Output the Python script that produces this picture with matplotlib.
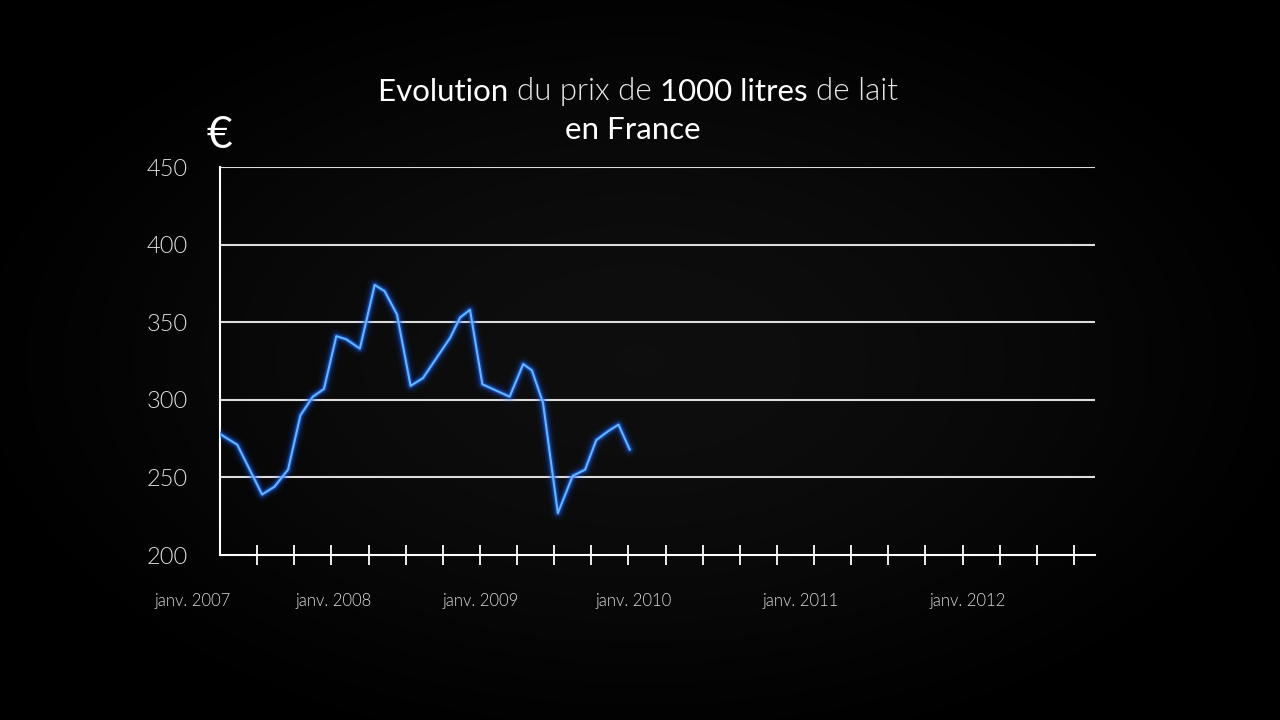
import matplotlib
matplotlib.use("Agg")
import matplotlib.pyplot as plt
import numpy as np

# Prix de 1000 litres de lait (EUR), mois depuis janv. 2007
mois = [0.0, 1.4, 3.4, 4.4, 5.5, 6.5, 7.5, 8.4, 9.4, 10.2, 11.3, 12.5, 13.3,
        14.3, 15.4, 16.4, 18.6, 19.4, 20.2, 21.2, 23.4, 24.5, 25.2, 26.1,
        27.3, 28.5, 29.5, 30.4, 31.4, 32.2, 33.1]
prix = [278, 271, 239, 244, 255, 290, 302, 307, 341, 339, 333, 374, 370,
        355, 309, 314, 340, 353, 358, 310, 302, 323, 319, 298,
        227, 251, 255, 274, 280, 284, 268]

y_ticks = [200, 250, 300, 350, 400, 450]
x_ticks = list(range(3, 70, 3))  # trimestres
annees = ["janv. 2007", "janv. 2008", "janv. 2009", "janv. 2010", "janv. 2011", "janv. 2012"]
pos_annees = [-2.2, 9.2, 21.1, 33.4, 46.9, 60.4]

police = "Lato"
fin = 300  # Lato Light

fig = plt.figure(figsize=(12.8, 7.2), dpi=100)
fig.patch.set_facecolor("black")

# fond noir avec léger halo au centre
bg = fig.add_axes([0, 0, 1, 1], zorder=-10)
yy, xx = np.mgrid[0:720, 0:1280]
r = np.sqrt(((xx - 640) / 720.0) ** 2 + ((yy - 360) / 430.0) ** 2)
lum = 0.055 * np.clip(1 - r ** 2, 0, 1) ** 1.5
bg.imshow(np.dstack([lum, lum, lum]), extent=[0, 1, 0, 1], aspect="auto")
bg.axis("off")

ax = fig.add_axes([220 / 1280, 1 - 555 / 720, (1095 - 220) / 1280, (555 - 167) / 720])
ax.set_facecolor("none")
ax.set_xlim(0, 70.7)
ax.set_ylim(200, 450)

# lignes horizontales
for v in y_ticks[1:]:
    ax.axhline(v, color="#dcdcdc", lw=1.5, zorder=1)

# courbe lumineuse : plusieurs couches pour le halo
for lw, a in [(11, 0.05), (7.5, 0.10), (5, 0.22), (3.2, 0.45)]:
    ax.plot(mois, prix, color="#1b64ff", lw=lw, alpha=a, solid_joinstyle="round",
            solid_capstyle="round", zorder=3)
ax.plot(mois, prix, color="#62b6ff", lw=1.5, zorder=4)

for s in ["top", "right"]:
    ax.spines[s].set_visible(False)
ax.spines["left"].set_color("white")
ax.spines["bottom"].set_color("white")
ax.spines["left"].set_linewidth(1.5)
ax.spines["bottom"].set_linewidth(1.5)

ax.set_yticks(y_ticks)
ax.set_yticklabels([str(v) for v in y_ticks], fontsize=17, color="#e0e0e0",
                   family=police, fontweight=fin)
ax.tick_params(axis="y", length=0, pad=23)

ax.set_xticks(x_ticks)
ax.set_xticklabels([])
ax.tick_params(axis="x", direction="inout", length=14, width=1.3, color="white")

for lab, p in zip(annees, pos_annees):
    ax.text(p, 170.5, lab, ha="center", va="center", fontsize=12, color="#dcdcdc",
            family=police, fontweight=fin, transform=ax.transData)

# symbole euro
fig.text(219 / 1280, 1 - 135 / 720, "€", ha="center", va="center", fontsize=32,
         color="white", family=police)

# titre avec graisses mélangées
morceaux = [("Evolution ", "normal", "white"), ("du prix de ", fin, "#e6e6e6"),
            ("1000 litres ", "normal", "white"), ("de lait", fin, "#e6e6e6")]
textes = [fig.text(0, 1 - 92 / 720, m, fontsize=22.5, family=police, fontweight=w,
                   color=c, ha="left", va="center") for m, w, c in morceaux]
fig.canvas.draw()
rend = fig.canvas.get_renderer()
largeurs = [t.get_window_extent(rend).width / 1280 for t in textes]
x0 = 638 / 1280 - sum(largeurs) / 2
for t, w in zip(textes, largeurs):
    t.set_x(x0)
    x0 += w
fig.text(633 / 1280, 1 - 130 / 720, "en France", ha="center", va="center",
         fontsize=22.5, family=police, color="white")

fig.savefig("out.png", dpi=100, facecolor="black")
